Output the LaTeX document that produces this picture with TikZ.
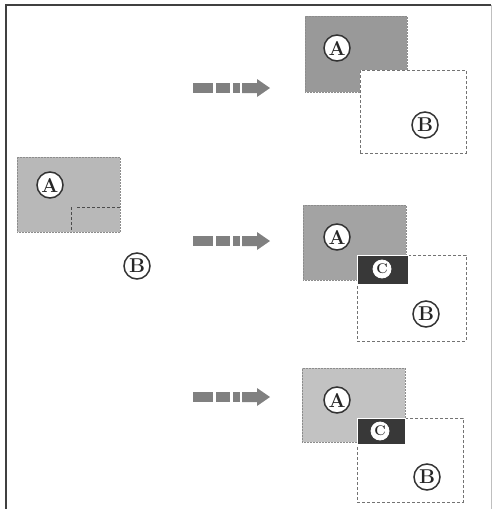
\documentclass[tikz,border=0pt]{standalone}
\begin{document}
\begin{tikzpicture}[x=1pt,y=-1pt,
  abox/.style={rectangle, inner sep=0pt, outer sep=0pt, anchor=north west, draw=black!45, densely dotted, line width=0.5pt},
  bbox/.style={rectangle, inner sep=0pt, outer sep=0pt, anchor=north west, fill=white, draw=black!55, densely dashed, line width=0.6pt},
  cbox/.style={rectangle, inner sep=0pt, outer sep=0pt, anchor=north west, fill=black!78, draw=white, line width=0.6pt},
  circled/.style={circle, draw=black!80, line width=1.5pt, fill=white, inner sep=0pt, minimum size=26pt, text=black!85, font=\fontsize{20}{20}\bfseries\selectfont},
  smallcircled/.style={circled, line width=0.8pt, draw=white, minimum size=18pt, font=\fontsize{14}{14}\bfseries\selectfont},
  arrowgray/.style={fill=black!50},
  darrow/.pic={
    \fill[arrowgray] (0,-5) rectangle (20,5);
    \fill[arrowgray] (23,-5) rectangle (37,5);
    \fill[arrowgray] (40,-5) rectangle (47,5);
    \fill[arrowgray] (49,-5) -- (64,-5) -- (64,-9) -- (77,0) -- (64,9) -- (64,5) -- (49,5) -- cycle;
  }
]
\useasboundingbox (0,0) rectangle (493,509);
% frame
\draw[black!75, line width=2pt] (6,509) -- (6,5) -- (491,5);
\draw[black!25, line width=0.6pt] (491,5) -- (491,509);

% left: A and B
\node[abox, fill=black!28, minimum width=103pt, minimum height=75pt] (A0) at (17,157) {};
\draw[black!70, densely dashed, line width=0.8pt] (77,207) -- (120,207);
\draw[black!70, densely dashed, line width=0.8pt] (71,207) -- (71,232);
\node[circled] (cA0) at (50,185) {A};
\node[circled] (cB0) at (137,266) {B};

% arrows
\pic at (193,88) {darrow};
\pic at (193,241) {darrow};
\pic at (193,397) {darrow};

% top right
\node[abox, fill=black!40, minimum width=102pt, minimum height=76pt] (A1) at (305,16) {};
\node[bbox, minimum width=106pt, minimum height=83pt] (B1) at (360,70) {};
\node[circled] (cA1) at (337,48) {A};
\node[circled] (cB1) at (425,125) {B};

% middle right
\node[abox, fill=black!36, minimum width=103pt, minimum height=75pt] (A2) at (303,205) {};
\node[bbox, minimum width=109pt, minimum height=86pt] (B2) at (357,255) {};
\node[cbox, minimum width=51pt, minimum height=29pt] (C2) at (357,255) {};
\node[circled] (cA2) at (337,237) {A};
\node[smallcircled] (cC2) at (382,269) {C};
\node[circled] (cB2) at (426,314) {B};

% bottom right
\node[abox, fill=black!24, minimum width=103pt, minimum height=74pt] (A3) at (302,368) {};
\node[bbox, minimum width=106pt, minimum height=84pt] (B3) at (357,418) {};
\node[cbox, minimum width=48pt, minimum height=26pt] (C3) at (357,418) {};
\node[circled] (cA3) at (337,400) {A};
\node[smallcircled] (cC3) at (380,431) {C};
\node[circled] (cB3) at (427,477) {B};
\end{tikzpicture}
\end{document}
